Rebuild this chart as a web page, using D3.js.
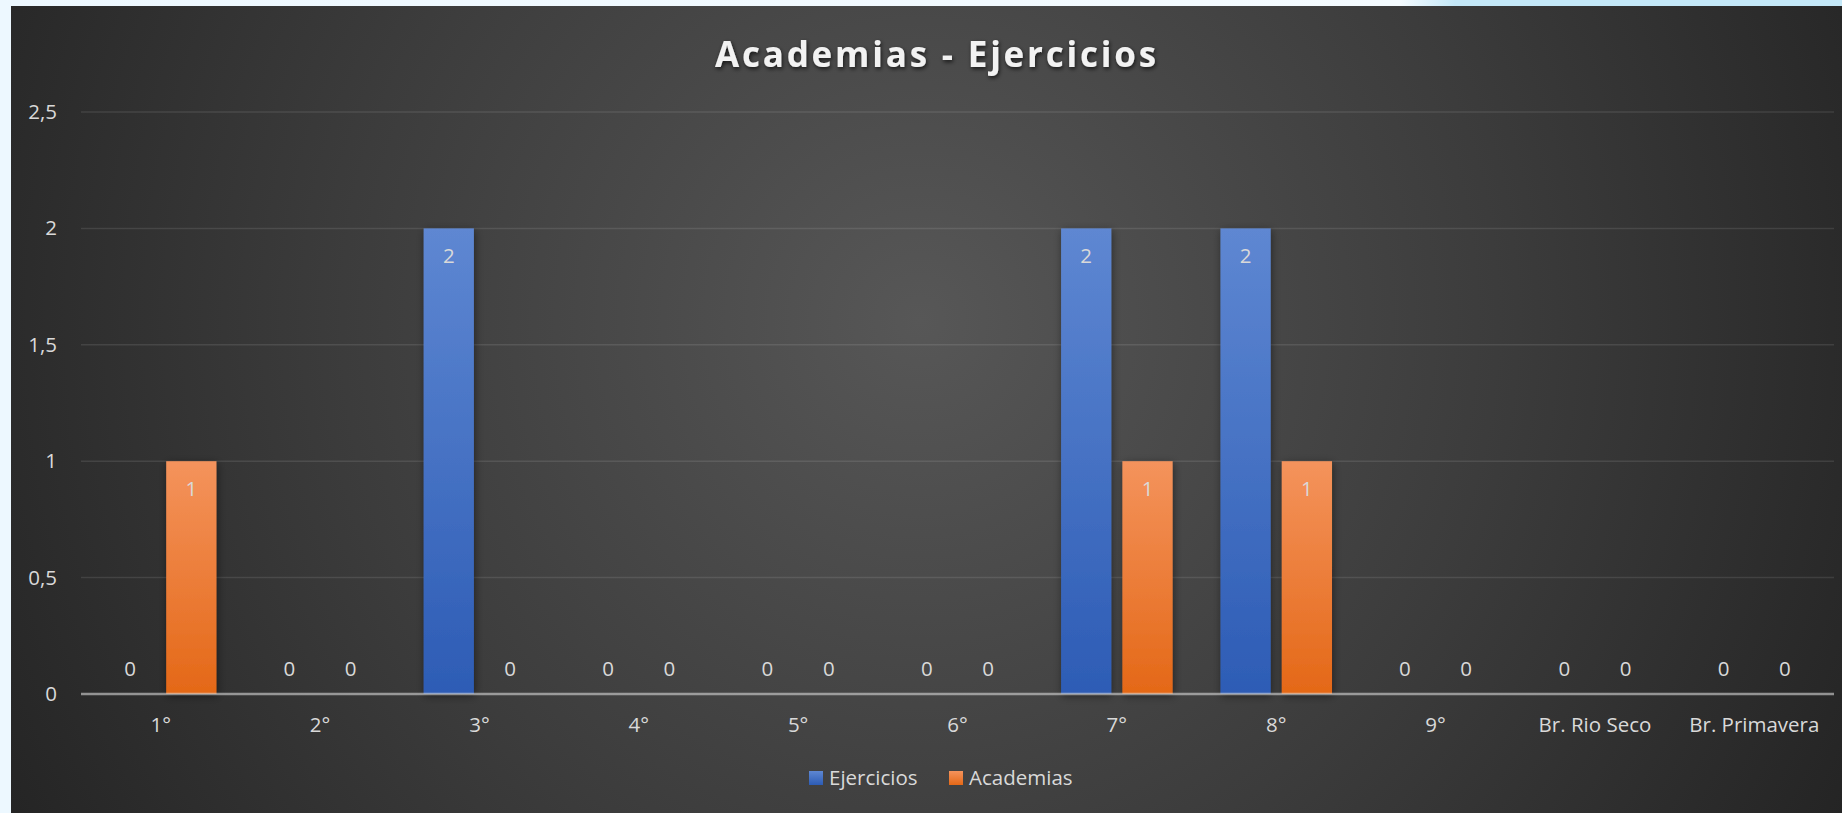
<!DOCTYPE html>
<html>
<head>
<meta charset="utf-8">
<script src="https://cdn.jsdelivr.net/npm/d3@7"></script>
<style>
  html, body { margin: 0; padding: 0; background: #edf8ff; overflow: hidden; }
  svg { display: block; }
</style>
</head>
<body>
<div id="chart"></div>
<script>
// chart data
var categories = ["1°", "2°", "3°", "4°", "5°", "6°", "7°", "8°", "9°", "Br. Rio Seco", "Br. Primavera"];
var seriesNames = ["Ejercicios", "Academias"];
var ejercicios = [0, 0, 2, 0, 0, 0, 2, 2, 0, 0, 0];
var academias = [1, 0, 0, 0, 0, 0, 1, 1, 0, 0, 0];
var yTicks = [0, 0.5, 1, 1.5, 2, 2.5];
var yTickLabels = ["0", "0,5", "1", "1,5", "2", "2,5"];

var width = 1842;
var height = 813;
var font = "'Open Sans', 'DejaVu Sans', sans-serif";

var svg = d3.select("#chart").append("svg")
    .attr("width", width)
    .attr("height", height);

var defs = svg.append("defs");

// background glow
var bg = defs.append("radialGradient")
    .attr("id", "bgGrad")
    .attr("gradientUnits", "userSpaceOnUse")
    .attr("cx", 920).attr("cy", 320).attr("r", 1050);
bg.append("stop").attr("offset", "0%").attr("stop-color", "#575757");
bg.append("stop").attr("offset", "55%").attr("stop-color", "#3c3c3c");
bg.append("stop").attr("offset", "100%").attr("stop-color", "#242424");

var topStrip = defs.append("linearGradient").attr("id", "topStrip");
topStrip.append("stop").attr("offset", "0%").attr("stop-color", "#edf8ff");
topStrip.append("stop").attr("offset", "76%").attr("stop-color", "#f4fbff");
topStrip.append("stop").attr("offset", "79%").attr("stop-color", "#c4e8f8");
topStrip.append("stop").attr("offset", "100%").attr("stop-color", "#c4e8f8");

function barGradient(id, top, bottom) {
    var g = defs.append("linearGradient").attr("id", id)
        .attr("x1", 0).attr("y1", 0).attr("x2", 0).attr("y2", 1);
    g.append("stop").attr("offset", "0%").attr("stop-color", top);
    g.append("stop").attr("offset", "100%").attr("stop-color", bottom);
}
barGradient("gradEjercicios", "#5e87d2", "#2d5cb5");
barGradient("gradAcademias", "#f4935c", "#e46817");

var shadow = defs.append("filter").attr("id", "barShadow")
    .attr("x", "-30%").attr("y", "-10%").attr("width", "160%").attr("height", "120%");
shadow.append("feDropShadow").attr("dx", 1).attr("dy", 2).attr("stdDeviation", 4)
    .attr("flood-color", "#000").attr("flood-opacity", 0.45);

var titleShadow = defs.append("filter").attr("id", "titleShadow")
    .attr("x", "-10%").attr("y", "-30%").attr("width", "120%").attr("height", "160%");
titleShadow.append("feDropShadow").attr("dx", 1).attr("dy", 2).attr("stdDeviation", 2)
    .attr("flood-color", "#000").attr("flood-opacity", 0.7);

svg.append("rect").attr("x", 0).attr("y", 0).attr("width", width).attr("height", 6)
    .attr("fill", "url(#topStrip)");
svg.append("rect").attr("x", 11).attr("y", 6).attr("width", width - 11).attr("height", height - 6)
    .attr("fill", "url(#bgGrad)");

// scales
var x0 = d3.scaleBand().domain(categories).range([81, 1834]).paddingInner(0.3).paddingOuter(0.15);
var x1 = d3.scaleBand().domain(seriesNames).range([0, x0.bandwidth()]).paddingInner(0.18);
var y = d3.scaleLinear().domain([0, 2.5]).range([694, 112]);
var fills = { "Ejercicios": "url(#gradEjercicios)", "Academias": "url(#gradAcademias)" };

// gridlines
svg.append("g").selectAll("line")
    .data(yTicks.filter(function (d) { return d > 0; }))
    .enter().append("line")
    .attr("x1", 81).attr("x2", 1834)
    .attr("y1", function (d) { return y(d); })
    .attr("y2", function (d) { return y(d); })
    .attr("stroke", "#ffffff").attr("stroke-opacity", 0.1).attr("stroke-width", 1.5);

// y axis labels
var yAxis = d3.axisLeft(y).tickValues(yTicks)
    .tickFormat(function (d, i) { return yTickLabels[i]; })
    .tickSize(0).tickPadding(0);
var yg = svg.append("g").attr("transform", "translate(57,0)").call(yAxis);
yg.select(".domain").remove();
yg.selectAll("text").attr("fill", "#d9d9d9").attr("font-family", font).attr("font-size", 20.5);

// rows of data per category
var rows = categories.map(function (c, i) {
    return { cat: c, values: [
        { name: "Ejercicios", value: ejercicios[i] },
        { name: "Academias", value: academias[i] }
    ] };
});

var groups = svg.append("g").selectAll("g")
    .data(rows).enter().append("g")
    .attr("transform", function (d) { return "translate(" + x0(d.cat) + ",0)"; });

groups.selectAll("rect")
    .data(function (d) { return d.values.filter(function (v) { return v.value > 0; }); })
    .enter().append("rect")
    .attr("x", function (d) { return x1(d.name); })
    .attr("y", function (d) { return y(d.value); })
    .attr("width", x1.bandwidth())
    .attr("height", function (d) { return y(0) - y(d.value); })
    .attr("fill", function (d) { return fills[d.name]; })
    .attr("filter", "url(#barShadow)");

// data labels
groups.selectAll("text")
    .data(function (d) { return d.values; })
    .enter().append("text")
    .attr("x", function (d) { return x1(d.name) + x1.bandwidth() / 2; })
    .attr("y", function (d) { return d.value > 0 ? y(d.value) + 35 : y(0) - 18; })
    .attr("text-anchor", "middle")
    .attr("fill", "#d9d9d9")
    .attr("font-family", font)
    .attr("font-size", 20.5)
    .text(function (d) { return d.value; });

// x axis
var xAxis = d3.axisBottom(x0).tickSize(0).tickPadding(0);
var xg = svg.append("g").attr("transform", "translate(0,694)").call(xAxis);
xg.select(".domain").attr("stroke", "#d9d9d9").attr("stroke-opacity", 0.6).attr("stroke-width", 2.5)
    .attr("d", "M81,0H1834");
xg.selectAll("text").attr("fill", "#d9d9d9").attr("font-family", font).attr("font-size", 20.5)
    .attr("dy", null).attr("y", 38);

// title
svg.append("text")
    .attr("x", 937).attr("y", 67)
    .attr("text-anchor", "middle")
    .attr("fill", "#f2f2f2")
    .attr("font-family", font)
    .attr("font-weight", "bold")
    .attr("font-size", 35)
    .attr("letter-spacing", 2.8)
    .attr("filter", "url(#titleShadow)")
    .text("Academias - Ejercicios");

// legend
var legendX = [809, 949];
var legend = svg.append("g").selectAll("g")
    .data(seriesNames).enter().append("g")
    .attr("transform", function (d, i) { return "translate(" + legendX[i] + ",771)"; });
legend.append("rect").attr("width", 14).attr("height", 14)
    .attr("fill", function (d) { return fills[d]; });
legend.append("text").attr("x", 20).attr("y", 14)
    .attr("fill", "#d9d9d9").attr("font-family", font).attr("font-size", 20.5)
    .text(function (d) { return d; });
</script>
</body>
</html>
